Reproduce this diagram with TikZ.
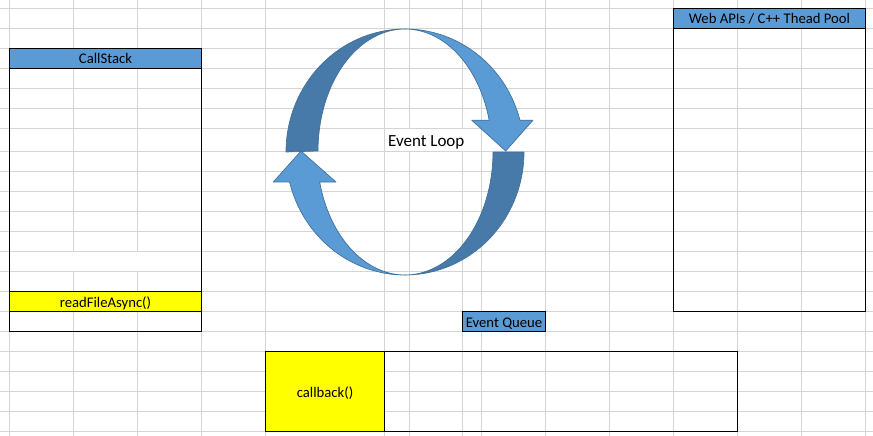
\documentclass[tikz,border=0pt]{standalone}
\usepackage{fontspec}
\setmainfont{Carlito}
\usetikzlibrary{positioning}
\definecolor{cellblue}{RGB}{91,155,213}
\definecolor{loopdark}{RGB}{71,122,169}
\definecolor{loopedge}{RGB}{65,113,156}
\definecolor{gridg}{RGB}{212,212,212}
\definecolor{cellyel}{RGB}{255,255,0}

\begin{document}
\begin{tikzpicture}[x=1pt, y=-1pt,
       gridline/.style={draw=gridg, line width=1pt},
       box/.style={draw=black, line width=1pt},
       cell/.style={anchor=north west, inner sep=0pt, outer sep=0pt,
         draw=black, line width=1pt, text height=13pt, text depth=2pt,
         font=\fontsize{14.7}{17}\selectfont},
       hdr/.style={cell, fill=cellblue},
       yel/.style={cell, fill=cellyel},
       loopfront/.style={fill=cellblue, draw=loopedge, line width=0.7pt, line join=round},
       loopback/.style={fill=loopdark, draw=loopedge, line width=0.7pt, line join=round}]
     \useasboundingbox (0,0) rectangle (873,436);
     \fill[white] (0,0) rectangle (873,436);
     % sheet grid
     \foreach \gx in {9.5,73.5,137.5,201.5,265.5,384.5,409.5,462.5,481.5,545.5,609.5,673.5,737.5,801.5,865.5}
       \draw[gridline] (\gx,0) -- (\gx,436);
     \foreach \gy in {8.5,28.5,48.5,68.5,88.5,108.5,128.5,151.5,171.5,...,431.5}
       \draw[gridline] (0,\gy) -- (873,\gy);
     \fill[white] (10,252) rectangle (201,271);
     \fill[white] (385,129) rectangle (481,151);
     % call stack
     \draw[box] (9.5,48.5) rectangle (201.5,331.5);
     \node[hdr, minimum width=192pt, minimum height=20pt] (stackhead) at (9.5,48.5) {CallStack};
     \node[yel, minimum width=192pt, minimum height=20pt] (stackcall) at (9.5,291.5) {readFileAsync()};
     % web apis
     \draw[box] (673.5,8.5) rectangle (865.5,311.5);
     \node[hdr, minimum width=192pt, minimum height=20pt] (apihead) at (673.5,8.5) {Web APIs / C++ Thead Pool};
     % event queue
     \node[hdr, minimum width=83pt, minimum height=20pt] (queuelabel) at (462.5,311.5) {Event Queue};
     \draw[box] (265.5,351.5) rectangle (737.5,431.5);
     \node[yel, minimum width=119pt, minimum height=80pt] (queuecb) at (265.5,351.5) {callback()};
     % event loop arrows
     \draw[loopback] plot[domain=180:270, samples=40] ({405+119*cos(\x)},{152+123*sin(\x)})
       -- plot[domain=270:180, samples=40] ({405+87*cos(\x)},{151+122*sin(\x)}) -- cycle;
     \draw[loopfront] plot[domain=270:345, samples=40] ({405+119*cos(\x)},{152+123*sin(\x)})
       -- (533,120.2) -- (505.7,151) -- (471.7,120.2)
       -- plot[domain=345.4:270, samples=40] ({405+87*cos(\x)},{151+122*sin(\x)}) -- cycle;
     \draw[loopback] plot[domain=0:90, samples=40] ({405+119*cos(\x)},{152+123*sin(\x)})
       -- plot[domain=90:0, samples=40] ({405+88*cos(\x)},{152+123*sin(\x)}) -- cycle;
     \draw[loopfront] plot[domain=90:165.9, samples=40] ({405+119*cos(\x)},{152+123*sin(\x)})
       -- (273.3,182) -- (301,151) -- (336,182)
       -- plot[domain=165.88:90, samples=40] ({405+88*cos(\x)},{152+123*sin(\x)}) -- cycle;
     \node[anchor=base west, inner sep=0pt, font=\fontsize{17}{20}\selectfont] (looplabel) at (388,146) {Event Loop};
   \end{tikzpicture}
\end{document}
